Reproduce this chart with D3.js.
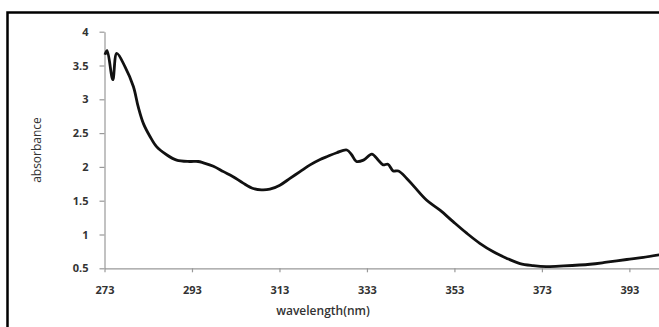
<!DOCTYPE html>
<html>
<head>
<meta charset="utf-8">
<script src="https://cdn.jsdelivr.net/npm/d3@7"></script>
<style>
body { margin: 0; background: #fff; }
text { font-family: "Open Sans", "Noto Sans", sans-serif; fill: #333; }
</style>
</head>
<body>
<div id="chart"></div>
<script>
// wavelength (nm) and absorbance
var wavelength = [273.1, 273.6, 274.9, 275.8, 277.7, 279.6, 280.7, 281.9, 283.4, 284.9,
  287.2, 289.5, 292.5, 294.4, 295.6, 297.9, 300.2, 302.4, 304.7, 307.0,
  308.9, 310.8, 313.1, 315.4, 317.7, 320.0, 322.3, 323.8, 326.1, 328.4,
  329.5, 330.6, 332.2, 334.1, 335.6, 336.7, 337.8, 339.0, 340.2, 342.1,
  343.9, 346.6, 349.7, 352.7, 355.8, 358.8, 361.9, 364.9, 368.0, 371.0,
  374.0, 378.0, 384.0, 387.8, 392.4, 396.2, 400.0];
var absorbance = [3.66, 3.72, 3.29, 3.68, 3.48, 3.19, 2.89, 2.64, 2.45, 2.30,
  2.18, 2.10, 2.08, 2.08, 2.06, 2.01, 1.93, 1.855, 1.76, 1.68,
  1.66, 1.67, 1.73, 1.83, 1.93, 2.03, 2.11, 2.15, 2.21, 2.25,
  2.18, 2.08, 2.10, 2.19, 2.10, 2.03, 2.04, 1.94, 1.94, 1.83,
  1.70, 1.51, 1.36, 1.19, 1.02, 0.87, 0.745, 0.65, 0.57, 0.54,
  0.525, 0.535, 0.56, 0.59, 0.63, 0.66, 0.70];
var xTicks = [273, 293, 313, 333, 353, 373, 393];
var yTicks = [0.5, 1, 1.5, 2, 2.5, 3, 3.5, 4];

var W = 659, H = 327;

var x = d3.scaleLinear()
  .domain([273, 400])
  .range([104.5, 660]);
var y = d3.scaleLinear()
  .domain([0.5, 4])
  .range([268.3, 31.7]);

var svg = d3.select("#chart").append("svg")
  .attr("width", W)
  .attr("height", H);

// frame of the scanned figure (runs off the right and bottom)
svg.append("rect")
  .attr("x", 7.5)
  .attr("y", 12.5)
  .attr("width", 700)
  .attr("height", 400)
  .attr("fill", "none")
  .attr("stroke", "#000")
  .attr("stroke-width", 2.5);

var xAxis = d3.axisBottom(x)
  .tickValues(xTicks)
  .tickSize(4)
  .tickSizeOuter(0)
  .tickPadding(14)
  .tickFormat(d3.format("d"));
var yAxis = d3.axisLeft(y)
  .tickValues(yTicks)
  .tickSize(5)
  .tickSizeOuter(0)
  .tickPadding(11)
  .tickFormat(function(d) { return d; });

var gx = svg.append("g")
  .attr("transform", "translate(0," + y(0.5) + ")")
  .call(xAxis);
var gy = svg.append("g")
  .attr("transform", "translate(" + x(273) + ",0)")
  .call(yAxis);

[gx, gy].forEach(function(g) {
  g.selectAll("path, line").attr("stroke", "#999").attr("stroke-width", 1.2);
  g.selectAll("text")
    .style("font-size", "11px")
    .style("font-weight", "700")
    .attr("fill", "#3a3a3a");
});

svg.append("text")
  .attr("transform", "translate(41,150) rotate(-90)")
  .attr("text-anchor", "middle")
  .style("font-size", "12px")
  .text("absorbance");

svg.append("text")
  .attr("x", 323)
  .attr("y", 315)
  .attr("text-anchor", "middle")
  .style("font-size", "12px")
  .style("font-weight", "600")
  .text("wavelength(nm)");

var line = d3.line()
  .x(function(d, i) { return x(wavelength[i]); })
  .y(function(d) { return y(d); })
  .curve(d3.curveCatmullRom);

svg.append("path")
  .datum(absorbance)
  .attr("fill", "none")
  .attr("stroke", "#111")
  .attr("stroke-width", 2.8)
  .attr("stroke-linejoin", "round")
  .attr("d", line);
</script>
</body>
</html>
